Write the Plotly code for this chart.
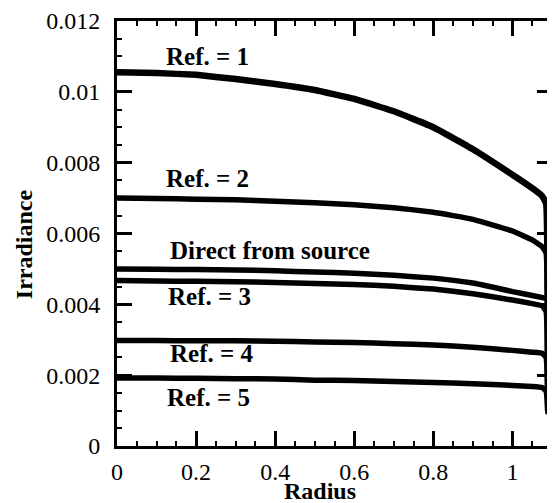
import plotly.graph_objects as go

# ---- data (irradiance in units of 1e-3) ----
radius_ref = [0, 0.1, 0.2, 0.3, 0.4, 0.5, 0.6, 0.7, 0.8, 0.9, 1.0, 1.05, 1.075, 1.085, 1.09]
ref1 = [10.55, 10.53, 10.48, 10.36, 10.22, 10.05, 9.80, 9.45, 9.00, 8.38, 7.66, 7.28, 7.06, 6.85, 1.00]
ref2 = [7.00, 6.99, 6.97, 6.95, 6.91, 6.87, 6.81, 6.73, 6.60, 6.40, 6.07, 5.82, 5.63, 5.45, 1.00]
ref3 = [4.67, 4.66, 4.65, 4.64, 4.62, 4.59, 4.56, 4.51, 4.43, 4.30, 4.12, 4.02, 3.96, 3.80, 1.00]
ref4 = [2.98, 2.98, 2.97, 2.97, 2.96, 2.94, 2.92, 2.89, 2.85, 2.79, 2.70, 2.65, 2.62, 2.50, 1.00]
ref5 = [1.92, 1.92, 1.91, 1.90, 1.89, 1.86, 1.85, 1.82, 1.79, 1.76, 1.71, 1.68, 1.65, 1.55, 0.90]
radius_direct = [0, 0.1, 0.2, 0.3, 0.4, 0.5, 0.6, 0.7, 0.8, 0.9, 1.0, 1.05, 1.09]
direct = [5.00, 4.99, 4.98, 4.97, 4.95, 4.91, 4.88, 4.82, 4.74, 4.60, 4.36, 4.25, 4.16]

series = [
    ("Ref. = 1", radius_ref, ref1, 6.5),
    ("Ref. = 2", radius_ref, ref2, 5.5),
    ("Direct from source", radius_direct, direct, 5.5),
    ("Ref. = 3", radius_ref, ref3, 5.5),
    ("Ref. = 4", radius_ref, ref4, 5.5),
    ("Ref. = 5", radius_ref, ref5, 5.5),
]

# label positions (data coords)
label_text = ["Ref. = 1", "Ref. = 2", "Direct from source", "Ref. = 3", "Ref. = 4", "Ref. = 5"]
label_x = [0.229, 0.229, 0.388, 0.234, 0.239, 0.231]
label_y = [0.0110, 0.00754, 0.00553, 0.00421, 0.00260, 0.00137]

x_tickvals = [0, 0.2, 0.4, 0.6, 0.8, 1.0]
x_ticktext = ["0", "0.2", "0.4", "0.6", "0.8", "1"]
y_tickvals = [0, 0.002, 0.004, 0.006, 0.008, 0.010, 0.012]
y_ticktext = ["0", "0.002", "0.004", "0.006", "0.008", "0.01", "0.012"]

FONT = "Liberation Serif"

fig = go.Figure()
for name, xs, ys, w in series:
    fig.add_trace(go.Scatter(
        x=xs, y=[v * 1e-3 for v in ys], mode="lines", name=name,
        line=dict(color="black", width=w, shape="spline", smoothing=0.3),
        showlegend=False,
    ))

for t, x, y in zip(label_text, label_x, label_y):
    fig.add_annotation(x=x, y=y, text=f"<b>{t}</b>", showarrow=False,
                       font=dict(family=FONT, size=25, color="black"),
                       xanchor="center", yanchor="middle")

fig.add_annotation(xref="paper", yref="paper", x=-0.2146, y=0.474,
                   text="<b>Irradiance</b>", textangle=-90, showarrow=False,
                   font=dict(family=FONT, size=24, color="black"),
                   xanchor="center", yanchor="middle")
fig.add_annotation(xref="paper", yref="paper", x=0.466, y=-0.107,
                   text="<b>Radius</b>", showarrow=False,
                   font=dict(family=FONT, size=24, color="black"),
                   xanchor="center", yanchor="middle")

axis_common = dict(
    showgrid=False, zeroline=False, showline=True, linecolor="black", linewidth=3,
    mirror="allticks", ticks="inside", ticklen=15, tickwidth=2.5, tickcolor="black",
    tickfont=dict(family=FONT, size=24, color="black"),
    ticklabeloverflow="allow",
)
fig.update_xaxes(range=[0, 1.1], tickvals=x_tickvals, ticktext=x_ticktext,
                 ticklabelstandoff=2,
                 minor=dict(ticks="inside", dtick=0.05, tick0=0, ticklen=5, tickwidth=2, tickcolor="black"),
                 **axis_common)
fig.update_yaxes(range=[0, 0.012], tickvals=y_tickvals, ticktext=y_ticktext,
                 ticklabelstandoff=9,
                 minor=dict(ticks="inside", dtick=0.0005, tick0=0, ticklen=5, tickwidth=2, tickcolor="black"),
                 **axis_common)

# page body has an 8px margin, so the figure is drawn 8px smaller and offset
fig.update_layout(
    width=547, height=495,
    margin=dict(l=109, r=0, t=8, b=57),
    paper_bgcolor="white", plot_bgcolor="white",
)

fig.write_html("out.html")
